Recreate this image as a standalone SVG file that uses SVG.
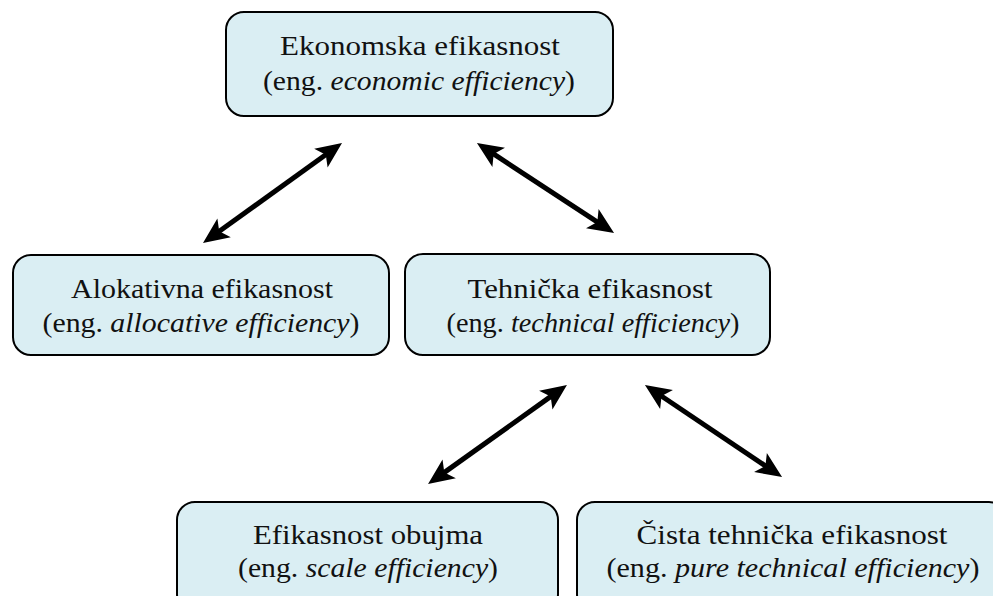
<svg xmlns="http://www.w3.org/2000/svg" width="993" height="596" viewBox="0 0 993 596">
<style>
.box{fill:#DAEEF3;stroke:#000;stroke-width:2}
.t{font-family:"Liberation Serif","DejaVu Serif",serif;font-size:27px;fill:#111;text-anchor:middle}
.i{font-style:italic}
.c{stroke:#000;stroke-width:5;fill:none;marker-start:url(#ah);marker-end:url(#ah)}
</style>
<defs>
<marker id="ah" markerUnits="userSpaceOnUse" orient="auto-start-reverse" refX="0" refY="0" markerWidth="40" markerHeight="40" overflow="visible">
<path d="M18,0 L-8,-11.5 L-2,0 L-8,11.5 Z" fill="#000"/>
</marker>
</defs>
<rect width="993" height="596" fill="#fff"/>
<g id="economic">
<rect class="box" x="226" y="12" width="387" height="104" rx="18"/>
<text class="t" x="420" y="55" textLength="280" lengthAdjust="spacingAndGlyphs">Ekonomska efikasnost</text>
<text class="t" x="419" y="90" textLength="312" lengthAdjust="spacingAndGlyphs">(eng. <tspan class="i">economic efficiency</tspan>)</text>
</g>
<g id="allocative">
<rect class="box" x="13" y="255" width="376" height="100" rx="18"/>
<text class="t" x="202" y="298" textLength="262" lengthAdjust="spacingAndGlyphs">Alokativna efikasnost</text>
<text class="t" x="201" y="332" textLength="317" lengthAdjust="spacingAndGlyphs">(eng. <tspan class="i">allocative efficiency</tspan>)</text>
</g>
<g id="technical">
<rect class="box" x="405" y="254" width="365" height="101" rx="18"/>
<text class="t" x="590" y="298" textLength="245" lengthAdjust="spacingAndGlyphs">Tehnička efikasnost</text>
<text class="t" x="593" y="332" textLength="293" lengthAdjust="spacingAndGlyphs">(eng. <tspan class="i">technical efficiency</tspan>)</text>
</g>
<g id="scale">
<rect class="box" x="177" y="502" width="381" height="110" rx="18"/>
<text class="t" x="368" y="544" textLength="230" lengthAdjust="spacingAndGlyphs">Efikasnost obujma</text>
<text class="t" x="368" y="577" textLength="260" lengthAdjust="spacingAndGlyphs">(eng. <tspan class="i">scale efficiency</tspan>)</text>
</g>
<g id="pure">
<rect class="box" x="577" y="502" width="430" height="110" rx="18"/>
<text class="t" x="792" y="544" textLength="311" lengthAdjust="spacingAndGlyphs">Čista tehnička efikasnost</text>
<text class="t" x="793" y="577" textLength="373" lengthAdjust="spacingAndGlyphs">(eng. <tspan class="i">pure technical efficiency</tspan>)</text>
</g>
<g id="connectors">
<line class="c" x1="217.6" y1="232.5" x2="327.4" y2="153.5"/>
<line class="c" x1="492.0" y1="152.9" x2="599.0" y2="223.1"/>
<line class="c" x1="442.7" y1="473.6" x2="552.3" y2="395.4"/>
<line class="c" x1="659.9" y1="395.0" x2="767.1" y2="467.0"/>
</g>
</svg>
